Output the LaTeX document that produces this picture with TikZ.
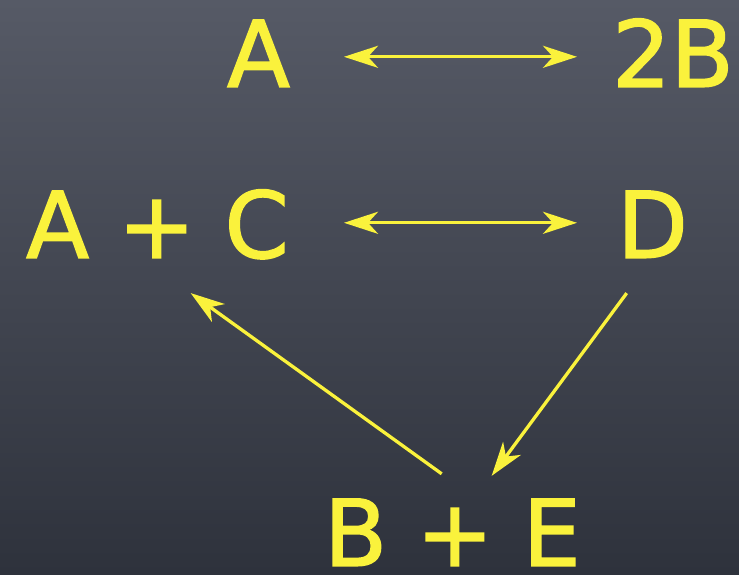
\documentclass[tikz,border=0pt]{standalone}
\usepackage{fontspec}
\setmainfont{DejaVu Sans}
\newfontfamily\chalkfont[FakeBold=1.6]{DejaVu Sans}
\usetikzlibrary{arrows.meta,calc}
\definecolor{chalk}{RGB}{250,242,60}
\definecolor{boardtop}{RGB}{86,90,102}
\definecolor{boardbot}{RGB}{46,50,60}
\begin{document}
\begin{tikzpicture}[x=1pt,y=-1pt,
  >={Stealth[length=34pt,width=22pt,inset=10pt]},
  lbl/.style={text=chalk, font=\chalkfont\fontsize{92}{92}\selectfont, inner sep=0pt,
    text height=68pt, text depth=0pt, anchor=south},
  rxn/.style={draw=chalk, line width=3.3pt}]
\useasboundingbox (0,0) rectangle (739,574);
\shade[top color=boardtop, bottom color=boardbot] (0,0) rectangle (739,574);
\node[lbl] (A)  at (258.5,87)  {A};
\node[lbl] (B2) at (673,87)    {2B};
\node[lbl] (AC) at (157.5,258) {A + C};
\node[lbl] (D)  at (652.5,258) {D};
\node[lbl] (BE) at (452.5,566) {B + E};
\draw[rxn,<->,shorten <=85.5pt,shorten >=96pt] ([yshift=-4pt]A.center) -- ([yshift=-4pt]B2.center);
\draw[rxn,<->,shorten <=186.5pt,shorten >=75.5pt] ([yshift=1pt]AC.center) -- ([yshift=1pt]D.center);
\draw[rxn,->] ($(BE.center)+(-10.8,-58)$) -- ($(AC.center)+(33.2,69.3)$);
\draw[rxn,->] ($(D.center)+(-25.8,69.3)$) -- ($(BE.center)+(39.2,-56)$);
\end{tikzpicture}
\end{document}
